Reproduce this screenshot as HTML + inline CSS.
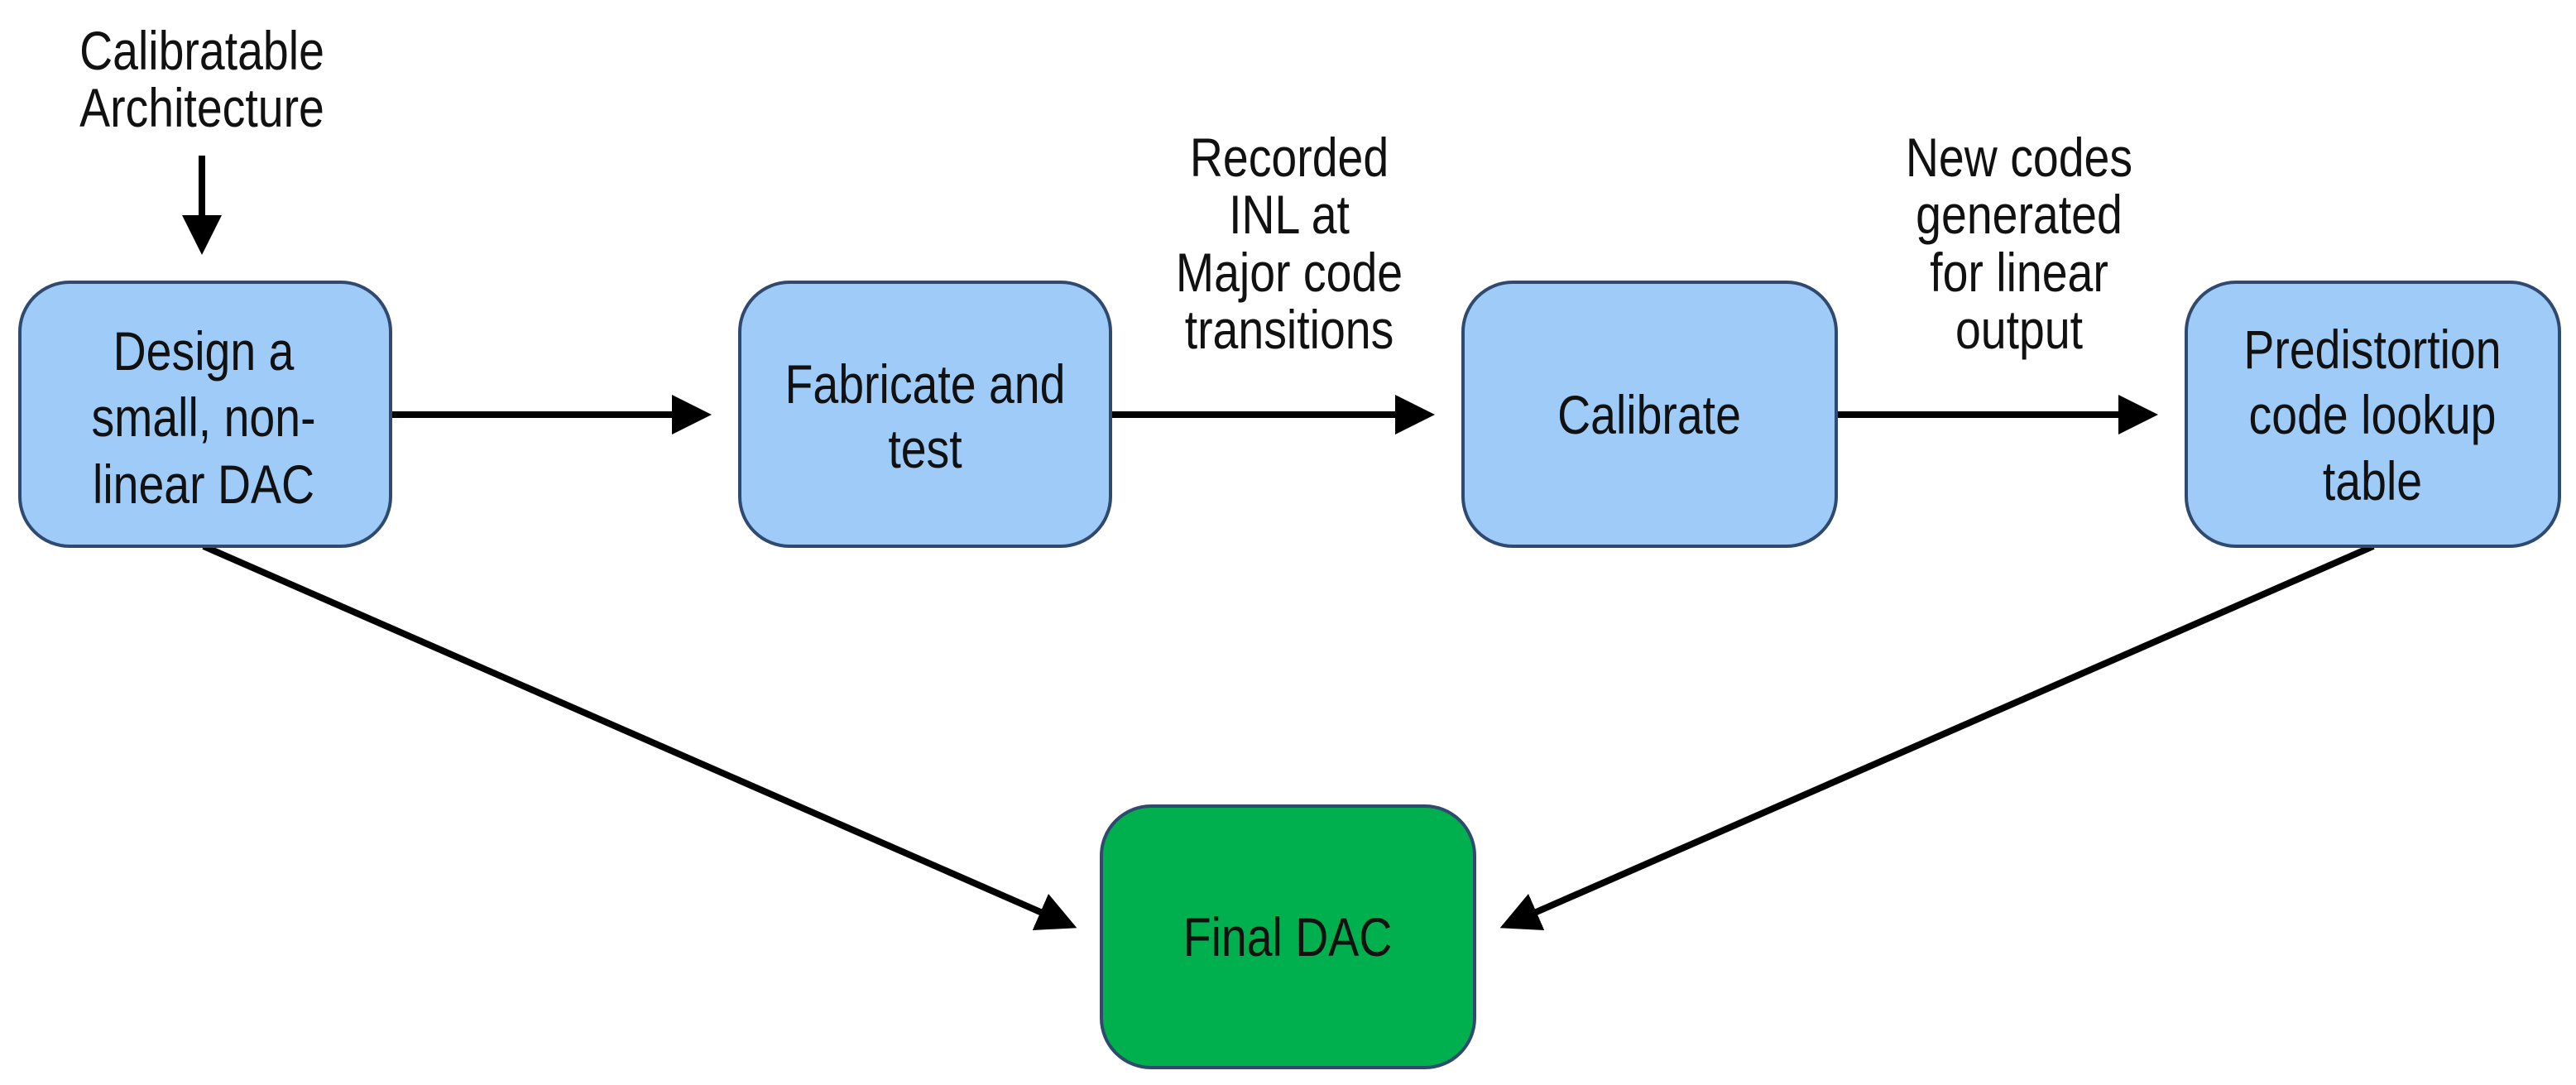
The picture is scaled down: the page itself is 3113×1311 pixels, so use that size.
<!DOCTYPE html>
<html><head><meta charset="utf-8"><style>
html,body{margin:0;padding:0;background:#fff;}
svg{display:block;}
text{font-family:"Liberation Sans",Arial,sans-serif;font-size:66px;fill:#111;}
</style></head><body>
<svg width="3113" height="1311" viewBox="0 0 3113 1311" xmlns="http://www.w3.org/2000/svg">
<defs>
<marker id="ah" markerWidth="6" markerHeight="6" refX="5" refY="3" orient="auto" markerUnits="strokeWidth">
<path d="M0,0 L6,3 L0,6 z" fill="#000"/>
</marker>
</defs>
<g stroke="#000" stroke-width="8" fill="none">
<line x1="244" y1="188" x2="244" y2="300" marker-end="url(#ah)"/>
<line x1="472" y1="501" x2="852" y2="501" marker-end="url(#ah)"/>
<line x1="1342" y1="501" x2="1726" y2="501" marker-end="url(#ah)"/>
<line x1="2219" y1="501" x2="2600" y2="501" marker-end="url(#ah)"/>
<line x1="246" y1="660" x2="1294" y2="1118" marker-end="url(#ah)"/>
<line x1="2868" y1="660" x2="1820" y2="1118" marker-end="url(#ah)"/>
</g>
<g fill="#9fcbf8" stroke="#2f4a6e" stroke-width="4">
<rect x="24" y="341" width="448" height="319" rx="60"/>
<rect x="894" y="341" width="448" height="319" rx="60"/>
<rect x="1768" y="341" width="451" height="319" rx="60"/>
<rect x="2642" y="341" width="451" height="319" rx="60"/>
</g>
<rect x="1331" y="974" width="451" height="316" rx="60" fill="#00b04f" stroke="#2f4a6e" stroke-width="4"/>
<g text-anchor="middle">
<text transform="translate(244,84) scale(0.84,1)">Calibratable</text>
<text transform="translate(244,153) scale(0.84,1)">Architecture</text>
<text transform="translate(246,447) scale(0.84,1)">Design a</text>
<text transform="translate(246,527) scale(0.84,1)">small, non-</text>
<text transform="translate(246,608) scale(0.84,1)">linear DAC</text>
<text transform="translate(1118,487) scale(0.84,1)">Fabricate and</text>
<text transform="translate(1118,565) scale(0.84,1)">test</text>
<text transform="translate(1993,524) scale(0.84,1)">Calibrate</text>
<text transform="translate(2867,445) scale(0.84,1)">Predistortion</text>
<text transform="translate(2867,524) scale(0.84,1)">code lookup</text>
<text transform="translate(2867,604) scale(0.84,1)">table</text>
<text transform="translate(1556,1155) scale(0.84,1)">Final DAC</text>
<text transform="translate(1558,213) scale(0.84,1)">Recorded</text>
<text transform="translate(1558,282) scale(0.84,1)">INL at</text>
<text transform="translate(1558,352) scale(0.84,1)">Major code</text>
<text transform="translate(1558,421) scale(0.84,1)">transitions</text>
<text transform="translate(2440,213) scale(0.84,1)">New codes</text>
<text transform="translate(2440,282) scale(0.84,1)">generated</text>
<text transform="translate(2440,352) scale(0.84,1)">for linear</text>
<text transform="translate(2440,421) scale(0.84,1)">output</text>
</g>
</svg>
</body></html>
